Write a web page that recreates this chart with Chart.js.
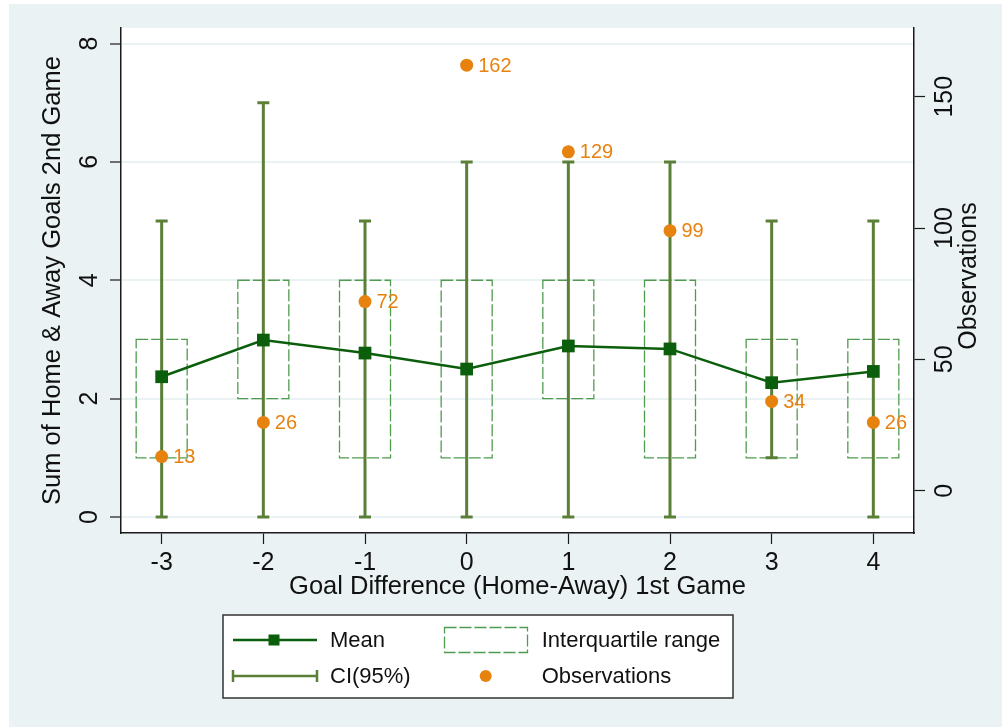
<!DOCTYPE html>
<html><head><meta charset="utf-8">
<script src="https://cdn.jsdelivr.net/npm/chart.js@4.4.0/dist/chart.umd.min.js"></script>
<style>
html,body{margin:0;padding:0;background:#fff;}
#wrap{position:relative;width:1002px;height:727px;}
canvas{display:block;}
</style></head><body>
<div id="wrap"><canvas id="c" width="1002" height="727"></canvas></div>
<script>
// ---- data ----
const categories   = [-3, -2, -1, 0, 1, 2, 3, 4];
const xTickLabels  = ['-3', '-2', '-1', '0', '1', '2', '3', '4'];
const meanGoals    = [2.37, 2.99, 2.77, 2.50, 2.89, 2.84, 2.27, 2.46];
const ciLow        = [0, 0, 0, 0, 0, 0, 1, 0];
const ciHigh       = [5, 7, 5, 6, 6, 6, 5, 5];
const iqrLow       = [1, 2, 1, 1, 2, 1, 1, 1];
const iqrHigh      = [3, 4, 4, 4, 4, 4, 3, 3];
const observations = [13, 26, 72, 162, 129, 99, 34, 26];
const leftTicks    = [0, 2, 4, 6, 8];
const rightTicks   = [0, 50, 100, 150];

// ---- style ----
const FONT = "'Liberation Sans', Arial, Helvetica, sans-serif";
const BG = '#EAF2F3';
const MEAN_COLOR = '#0b5e0b';
const CI_COLOR = '#5b7f36';
const IQR_COLOR = '#4f9c4f';
const OBS_COLOR = '#E8820F';
const TEXT_COLOR = '#111111';
const AXIS_COLOR = '#1a1a1a';

const bgPlugin = {
  id: 'bgPlugin',
  beforeDraw(chart) {
    const ctx = chart.ctx, a = chart.chartArea;
    ctx.save();
    ctx.fillStyle = '#ffffff';
    ctx.fillRect(0, 0, chart.width, chart.height);
    ctx.fillStyle = BG;
    ctx.fillRect(9, 4, chart.width - 9, chart.height - 4);
    ctx.fillStyle = '#ffffff';
    ctx.fillRect(a.left, a.top, a.right - a.left, a.bottom - a.top);
    ctx.restore();
  }
};

const rangePlugin = {
  id: 'rangePlugin',
  beforeDatasetsDraw(chart) {
    const ctx = chart.ctx, xs = chart.scales.x, ys = chart.scales.y;
    ctx.save();
    // IQR boxes
    ctx.strokeStyle = IQR_COLOR;
    ctx.lineWidth = 1.3;
    ctx.setLineDash([12, 3]);
    categories.forEach((c, i) => {
      const px = xs.getPixelForValue(c);
      const yt = ys.getPixelForValue(iqrHigh[i]);
      const yb = ys.getPixelForValue(iqrLow[i]);
      ctx.strokeRect(px - 25.5, yt, 51, yb - yt);
    });
    ctx.setLineDash([]);
    // CI whiskers
    ctx.strokeStyle = CI_COLOR;
    ctx.lineWidth = 3;
    categories.forEach((c, i) => {
      const px = xs.getPixelForValue(c);
      const yh = ys.getPixelForValue(ciHigh[i]);
      const yl = ys.getPixelForValue(ciLow[i]);
      ctx.beginPath();
      ctx.moveTo(px, yh); ctx.lineTo(px, yl);
      ctx.moveTo(px - 6, yh); ctx.lineTo(px + 6, yh);
      ctx.moveTo(px - 6, yl); ctx.lineTo(px + 6, yl);
      ctx.stroke();
    });
    ctx.restore();
  },
  afterDatasetsDraw(chart) {
    const ctx = chart.ctx, xs = chart.scales.x, ys = chart.scales.y2;
    ctx.save();
    ctx.fillStyle = OBS_COLOR;
    ctx.font = '20px ' + FONT;
    ctx.textAlign = 'left';
    ctx.textBaseline = 'middle';
    categories.forEach((c, i) => {
      const px = xs.getPixelForValue(c);
      const py = ys.getPixelForValue(observations[i]);
      ctx.fillText(String(observations[i]), px + 11.5, py + 1);
    });
    ctx.restore();
  },
  afterDraw(chart) {
    const ctx = chart.ctx, a = chart.chartArea;
    ctx.save();
    // right axis title
    ctx.fillStyle = TEXT_COLOR;
    ctx.font = '25px ' + FONT;
    ctx.textAlign = 'center';
    ctx.textBaseline = 'middle';
    ctx.translate(969.5, 276);
    ctx.rotate(-Math.PI / 2);
    ctx.fillText('Observations', 0, 0);
    ctx.restore();

    // legend
    ctx.save();
    const L = 223, T = 615, R = 733, B = 698;
    ctx.fillStyle = '#ffffff';
    ctx.fillRect(L, T, R - L, B - T);
    ctx.strokeStyle = '#333333';
    ctx.lineWidth = 1.5;
    ctx.strokeRect(L, T, R - L, B - T);
    const r1 = 640, r2 = 676;
    // Mean
    ctx.strokeStyle = MEAN_COLOR; ctx.lineWidth = 2.5;
    ctx.beginPath(); ctx.moveTo(233, r1); ctx.lineTo(317, r1); ctx.stroke();
    ctx.fillStyle = MEAN_COLOR;
    ctx.fillRect(274 - 5.5, r1 - 5.5, 11, 11);
    // IQR
    ctx.strokeStyle = IQR_COLOR; ctx.lineWidth = 1.3;
    ctx.setLineDash([12, 3]);
    ctx.strokeRect(444.5, 627.5, 83, 25);
    ctx.setLineDash([]);
    // CI
    ctx.strokeStyle = CI_COLOR; ctx.lineWidth = 2.5;
    ctx.beginPath();
    ctx.moveTo(233, r2); ctx.lineTo(317, r2);
    ctx.moveTo(233, r2 - 6); ctx.lineTo(233, r2 + 6);
    ctx.moveTo(317, r2 - 6); ctx.lineTo(317, r2 + 6);
    ctx.stroke();
    // Obs
    ctx.fillStyle = OBS_COLOR;
    ctx.beginPath(); ctx.arc(485.7, r2, 6, 0, Math.PI * 2); ctx.fill();
    // texts
    ctx.fillStyle = TEXT_COLOR;
    ctx.font = '22px ' + FONT;
    ctx.textAlign = 'left';
    ctx.textBaseline = 'middle';
    ctx.fillText('Mean', 330, r1 + 1);
    ctx.fillText('Interquartile range', 541.7, r1 + 1);
    ctx.fillText('CI(95%)', 330, r2 + 1);
    ctx.fillText('Observations', 541.7, r2 + 1);
    ctx.restore();
  }
};

const meanData = categories.map((c, i) => ({ x: c, y: meanGoals[i] }));
const obsData = categories.map((c, i) => ({ x: c, y: observations[i] }));

new Chart(document.getElementById('c'), {
  type: 'line',
  data: {
    datasets: [
      {
        label: 'Mean',
        data: meanData,
        yAxisID: 'y',
        borderColor: MEAN_COLOR,
        backgroundColor: MEAN_COLOR,
        borderWidth: 2.5,
        pointStyle: 'rect',
        pointRadius: 9,
        pointBorderWidth: 0,
        pointBackgroundColor: MEAN_COLOR,
        tension: 0,
        order: 0
      },
      {
        label: 'Observations',
        type: 'scatter',
        data: obsData,
        yAxisID: 'y2',
        showLine: false,
        pointStyle: 'circle',
        pointRadius: 6.5,
        pointBorderWidth: 0,
        pointBackgroundColor: OBS_COLOR,
        backgroundColor: OBS_COLOR,
        borderColor: OBS_COLOR,
        order: 1
      }
    ]
  },
  options: {
    responsive: false,
    animation: false,
    devicePixelRatio: 1,
    layout: { padding: { left: 9, right: 0, top: 28, bottom: 104 } },
    plugins: { legend: { display: false }, tooltip: { enabled: false } },
    scales: {
      x: {
        type: 'linear',
        position: 'bottom',
        min: -3.4,
        max: 4.4,
        afterBuildTicks(s) { s.ticks = categories.map(v => ({ value: v })); },
        afterFit(s) { s.height = 90; },
        ticks: {
          autoSkip: false,
          maxRotation: 0,
          minRotation: 0,
          padding: 4,
          color: TEXT_COLOR,
          font: { family: FONT, size: 25 },
          callback(v) { const k = categories.indexOf(v); return k >= 0 ? xTickLabels[k] : ''; }
        },
        grid: { drawOnChartArea: false, tickLength: 11, tickColor: AXIS_COLOR, tickWidth: 1.2 },
        border: { display: true, color: AXIS_COLOR, width: 1.5 },
        title: {
          display: true,
          text: 'Goal Difference (Home-Away) 1st Game',
          color: TEXT_COLOR,
          font: { family: FONT, size: 25.5 },
          padding: { top: 0, bottom: 21 }
        }
      },
      y: {
        type: 'linear',
        position: 'left',
        min: -0.27,
        max: 8.262,
        afterBuildTicks(s) { s.ticks = leftTicks.map(v => ({ value: v })); },
        afterFit(s) { s.width = 112; },
        ticks: {
          minRotation: 90,
          maxRotation: 90,
          crossAlign: 'center',
          padding: 13,
          color: TEXT_COLOR,
          font: { family: FONT, size: 25 }
        },
        grid: { drawOnChartArea: true, color: BG, lineWidth: 2, tickLength: 11, tickColor: AXIS_COLOR, tickWidth: 1.2 },
        border: { display: true, color: AXIS_COLOR, width: 1.5 },
        title: {
          display: true,
          text: 'Sum of Home & Away Goals 2nd Game',
          color: TEXT_COLOR,
          font: { family: FONT, size: 25.5 },
          padding: { top: 28.5, bottom: 0 }
        }
      },
      y2: {
        type: 'linear',
        position: 'right',
        min: -16.1,
        max: 176.15,
        afterBuildTicks(s) { s.ticks = rightTicks.map(v => ({ value: v })); },
        afterFit(s) { s.width = 88; },
        ticks: {
          minRotation: 90,
          maxRotation: 90,
          crossAlign: 'center',
          padding: -1,
          color: TEXT_COLOR,
          font: { family: FONT, size: 25 }
        },
        grid: { drawOnChartArea: false, tickLength: 11, tickColor: AXIS_COLOR, tickWidth: 1.2 },
        border: { display: true, color: AXIS_COLOR, width: 1.5 }
      }
    }
  },
  plugins: [bgPlugin, rangePlugin]
});
</script>
</body></html>
